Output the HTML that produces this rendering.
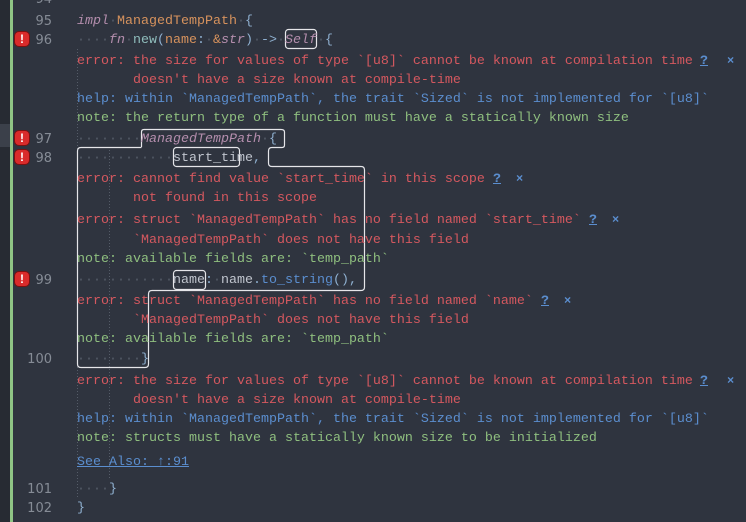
<!DOCTYPE html>
<html><head><meta charset="utf-8"><style>
html,body{margin:0;padding:0}
body{width:746px;height:522px;background:#2f343f;position:relative;overflow:hidden;font-family:"Liberation Mono",monospace;font-size:13.33px}
.l{position:absolute;left:77px;height:19px;line-height:19px;white-space:pre;color:#c0c5ce;margin-top:2px}
.n{position:absolute;width:52px;text-align:right;left:0;height:19px;line-height:19px;color:#868c96;font-family:"DejaVu Sans",sans-serif;font-size:13px;margin-top:2px}
.d{color:#555c68}.r{color:#d4585f}.b{color:#5b8ecf}.g{color:#8fbf7f}
.k{color:#b48ead;font-style:italic}.o{color:#d6925d}.t{color:#8fbcbb}.w{color:#c0c5ce}.br{color:#8fb0d0}
.q{position:absolute;color:#5b8ecf;text-decoration:underline;line-height:19px;font-weight:bold;margin-top:2px}
.x{position:absolute;color:#5b8ecf;line-height:19px;font-size:12px;font-weight:bold;margin-top:2px}
.ic{position:absolute;left:15px;width:14px;height:14px;background:#d92b2b;border-radius:4px;color:#fff;font:bold 12px "Liberation Sans",sans-serif;text-align:center;line-height:14px;box-shadow:0 0 0 1px #7a1010}
</style></head><body>
<div style="position:absolute;left:0;top:0;width:10px;height:522px;background:#272b33"></div>
<div style="position:absolute;left:0;top:124px;width:10px;height:23px;background:#3b404a"></div>
<div style="position:absolute;left:10px;top:0;width:3px;height:522px;background:#8fc485"></div>
<svg width="746" height="522" style="position:absolute;left:0;top:0">
<line x1="77.5" y1="49" x2="77.5" y2="498" stroke="#555c68" stroke-dasharray="1,2"/>
<line x1="109.5" y1="147" x2="109.5" y2="478" stroke="#555c68" stroke-dasharray="1,2"/>
<g fill="none" stroke="#e6e6ea" stroke-width="1.2" stroke-linejoin="round">
<rect x="285.5" y="29.5" width="31" height="19" rx="3"/>
<path d="M141.5,147 V132 Q141.5,129.5 144,129.5 H281 Q284.5,129.5 284.5,132 V145 Q284.5,147.5 282,147.5 H272 Q268.5,147.5 268.5,151 V163 Q268.5,166.5 272,166.5 H361 Q364.5,166.5 364.5,170 V287 Q364.5,290.5 361,290.5 H152 Q148.5,290.5 148.5,294 V364 Q148.5,367.5 145,367.5 H81 Q77.5,367.5 77.5,364 V151 Q77.5,147.5 81,147.5 H141.5"/>
<rect x="173.5" y="147.5" width="66" height="19" rx="3"/>
<rect x="173.5" y="270.5" width="32" height="19" rx="3"/>
</g></svg>

<div class="n" style="top:-12px">94</div>
<div class="n" style="top:10px">95</div>
<div class="n" style="top:29px">96</div>
<div class="n" style="top:128px">97</div>
<div class="n" style="top:147px">98</div>
<div class="n" style="top:269px">99</div>
<div class="n" style="top:348px">100</div>
<div class="n" style="top:478px">101</div>
<div class="n" style="top:497px">102</div>
<div class="ic" style="top:32px">!</div>
<div class="ic" style="top:131px">!</div>
<div class="ic" style="top:150px">!</div>
<div class="ic" style="top:272px">!</div>

<div class="l" style="top:10px"><span class="k">impl</span><span class="d">·</span><span class="o">ManagedTempPath</span><span class="d">·</span><span class="br">{</span></div>
<div class="l" style="top:29px"><span class="d">····</span><span class="k">fn</span><span class="d">·</span><span class="t">new</span><span class="br">(</span><span class="o">name</span><span class="br">:</span><span class="d">·</span><span class="o">&amp;</span><span class="k">str</span><span class="br">)</span><span class="d">·</span><span class="br">-&gt;</span><span class="d">·</span><span class="k">Self</span><span class="d">·</span><span class="br">{</span></div>
<div class="l r" style="top:50px">error: the size for values of type `[u8]` cannot be known at compilation time</div>
<div class="q" style="left:700px;top:50px">?</div><div class="x" style="left:727px;top:50px">×</div>
<div class="l r" style="top:69px">       doesn't have a size known at compile-time</div>
<div class="l b" style="top:88px">help: within `ManagedTempPath`, the trait `Sized` is not implemented for `[u8]`</div>
<div class="l g" style="top:107px">note: the return type of a function must have a statically known size</div>
<div class="l" style="top:128px"><span class="d">········</span><span class="k">ManagedTempPath</span><span class="d">·</span><span class="br">{</span></div>
<div class="l" style="top:147px"><span class="d">············</span>start_time<span class="br">,</span></div>
<div class="l r" style="top:168px">error: cannot find value `start_time` in this scope</div>
<div class="q" style="left:493px;top:168px">?</div><div class="x" style="left:516px;top:168px">×</div>
<div class="l r" style="top:187px">       not found in this scope</div>
<div class="l r" style="top:209px">error: struct `ManagedTempPath` has no field named `start_time`</div>
<div class="q" style="left:589px;top:209px">?</div><div class="x" style="left:612px;top:209px">×</div>
<div class="l r" style="top:229px">       `ManagedTempPath` does not have this field</div>
<div class="l g" style="top:248px">note: available fields are: `temp_path`</div>
<div class="l" style="top:269px"><span class="d">············</span>name<span class="br">:</span><span class="d">·</span>name<span class="br">.</span><span class="b">to_string</span><span class="br">(),</span></div>
<div class="l r" style="top:290px">error: struct `ManagedTempPath` has no field named `name`</div>
<div class="q" style="left:541px;top:290px">?</div><div class="x" style="left:564px;top:290px">×</div>
<div class="l r" style="top:309px">       `ManagedTempPath` does not have this field</div>
<div class="l g" style="top:328px">note: available fields are: `temp_path`</div>
<div class="l" style="top:348px"><span class="d">········</span><span class="br">}</span></div>
<div class="l r" style="top:370px">error: the size for values of type `[u8]` cannot be known at compilation time</div>
<div class="q" style="left:700px;top:370px">?</div><div class="x" style="left:727px;top:370px">×</div>
<div class="l r" style="top:389px">       doesn't have a size known at compile-time</div>
<div class="l b" style="top:408px">help: within `ManagedTempPath`, the trait `Sized` is not implemented for `[u8]`</div>
<div class="l g" style="top:427px">note: structs must have a statically known size to be initialized</div>
<div class="l b" style="top:451px;text-decoration:underline">See Also: ↑:91</div>
<div class="l" style="top:478px"><span class="d">····</span><span class="br">}</span></div>
<div class="l" style="top:497px"><span class="br">}</span></div>
</body></html>
